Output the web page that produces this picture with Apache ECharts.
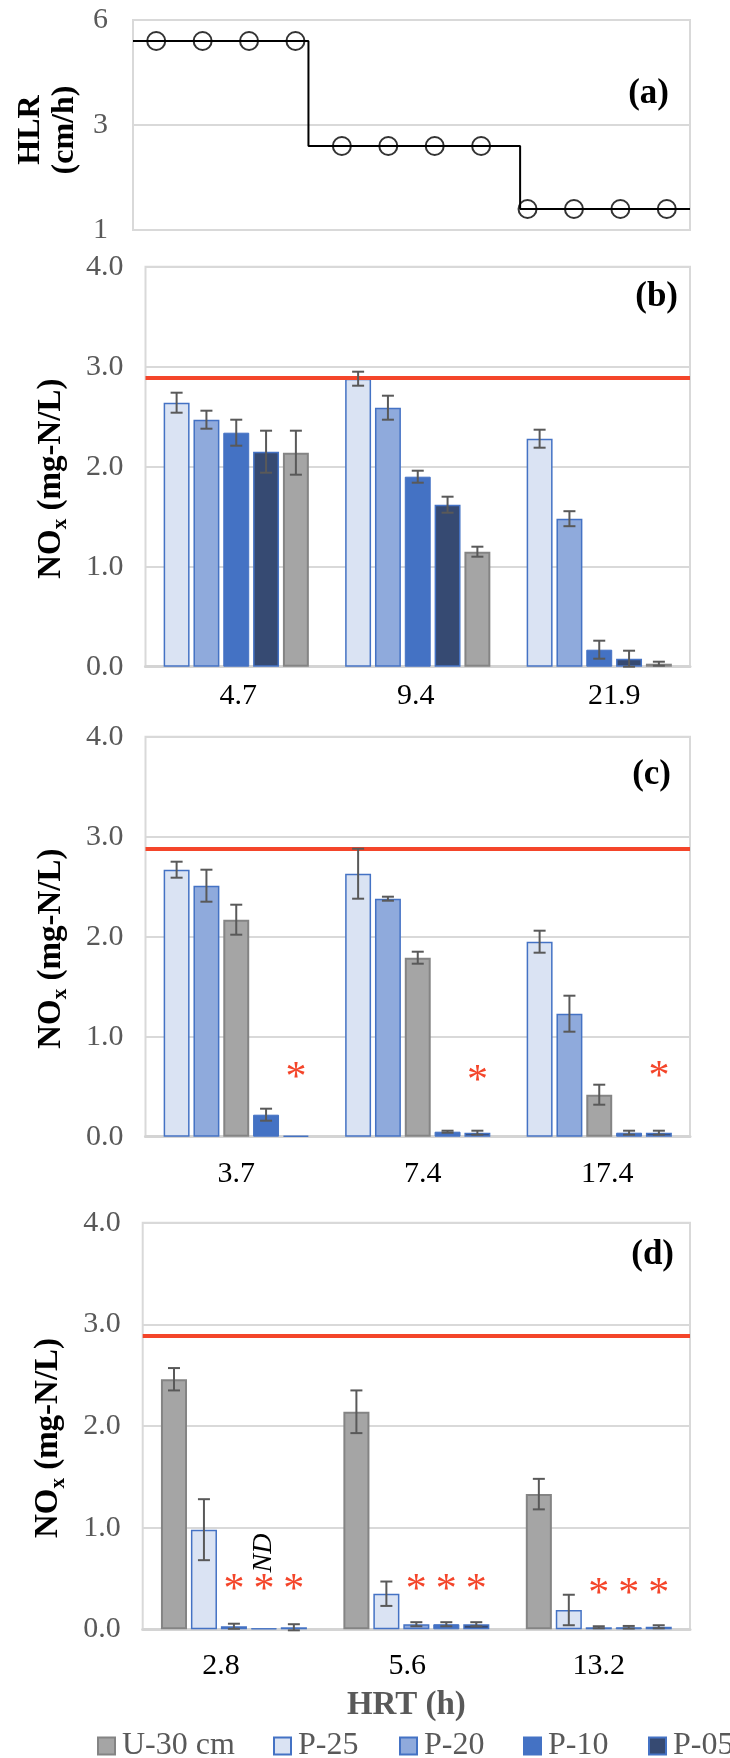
<!DOCTYPE html>
<html><head><meta charset="utf-8">
<script src="https://cdn.jsdelivr.net/npm/echarts@6/dist/echarts.min.js"></script>
<style>html,body{margin:0;padding:0;background:#fff}#c{width:730px;height:1758px}</style>
</head><body><div id="c"></div>
<script>
// ---------------- data ----------------
const hlrTickLabels = [1, 3, 6];
const hlrRuns = ['1','2','3','4','5','6','7','8','9','10','11','12'];
const hlrValues = [5.4, 5.4, 5.4, 5.4, 2.6, 2.6, 2.6, 2.6, 1.4, 1.4, 1.4, 1.4];
const hlrStepLevels = [5.4, 2.6, 1.4];
const hlrStepBreaks = [0, 3.78, 8.34, 12];

const legendNames = ['U-30 cm', 'P-25', 'P-20', 'P-10', 'P-05'];
const nitrateLimit = [2.89, 2.88, 2.89];

// panel (b)
const hrtB = ['4.7', '9.4', '21.9'];
const orderB = ['P-25', 'P-20', 'P-10', 'P-05', 'U-30 cm'];
const bP25 = [2.64, 2.88, 2.28], bP25err = [0.10, 0.07, 0.09];
const bP20 = [2.47, 2.59, 1.48], bP20err = [0.09, 0.12, 0.075];
const bP10 = [2.34, 1.90, 0.17], bP10err = [0.13, 0.06, 0.09];
const bP05 = [2.15, 1.62, 0.08], bP05err = [0.21, 0.08, 0.08];
const bU30 = [2.14, 1.15, 0.03], bU30err = [0.22, 0.05, 0.02];

// panel (c)
const hrtC = ['3.7', '7.4', '17.4'];
const orderC = ['P-25', 'P-20', 'U-30 cm', 'P-10', 'P-05'];
const cP25 = [2.67, 2.63, 1.95], cP25err = [0.08, 0.25, 0.11];
const cP20 = [2.51, 2.38, 1.23], cP20err = [0.16, 0.02, 0.18];
const cU30 = [2.17, 1.79, 0.42], cU30err = [0.15, 0.06, 0.10];
const cP10 = [0.22, 0.05, 0.04], cP10err = [0.06, 0.01, 0.02];
const cP05 = [0.01, 0.04, 0.04], cP05err = [0, 0.02, 0.02];
const cStars = [[0, 4, 0.58], [1, 4, 0.55], [2, 4, 0.59]];   // [HRT index, bar slot, level]

// panel (d)
const hrtD = ['2.8', '5.6', '13.2'];
const orderD = ['U-30 cm', 'P-25', 'P-20', 'P-10', 'P-05'];
const dU30 = [2.46, 2.14, 1.33], dU30err = [0.11, 0.21, 0.15];
const dP25 = [0.98, 0.35, 0.19], dP25err = [0.30, 0.12, 0.15];
const dP20 = [0.03, 0.05, 0.02], dP20err = [0.025, 0.02, 0.01];
const dP10 = [0.01, 0.05, 0.02], dP10err = [0, 0.02, 0.013];
const dP05 = [0.02, 0.05, 0.025], dP05err = [0.03, 0.02, 0.015];
const dStars = [[0, 2, 0.38], [0, 3, 0.38], [0, 4, 0.38], [1, 2, 0.38], [1, 3, 0.38], [1, 4, 0.38], [2, 2, 0.34], [2, 3, 0.34], [2, 4, 0.34]];
const dND = [[0, 3, 0.75]];

// ---------------- styling / building ----------------
const FONT = 'Liberation Serif';
const styles = {
  'U-30 cm': {color: '#a5a5a5', borderColor: '#848484', borderWidth: 2},
  'P-25': {color: '#dae3f3', borderColor: '#4472c4', borderWidth: 1.5},
  'P-20': {color: '#8faadc', borderColor: '#4472c4', borderWidth: 1.5},
  'P-10': {color: '#4472c4', borderColor: '#4472c4', borderWidth: 1},
  'P-05': {color: '#364a72', borderColor: '#4472c4', borderWidth: 1.5}
};
// horizontal nudges of category labels (px), as placed in the original figure
const labelNudge = [[2, -2, 15], [0, 5, 8], [-13, -9, 0]];
const legendLeft = [97, 273, 399, 523, 648];

function hlrPos(v) {
  const t = hlrTickLabels;
  for (let i = 0; i < t.length - 1; i++) {
    if (v <= t[i + 1] || i === t.length - 2) return i + (v - t[i]) / (t[i + 1] - t[i]);
  }
}

const grids = [
  {left: 133, top: 20, width: 557, height: 210},
  {left: 145.5, top: 266.7, width: 544.5, height: 400},
  {left: 145.5, top: 736.7, width: 544.5, height: 400},
  {left: 142.7, top: 1222.7, width: 547.3, height: 406.6}
].map(g => Object.assign({show: true, borderColor: '#d9d9d9', borderWidth: 2, backgroundColor: 'transparent'}, g));

const xAxis = [], yAxis = [], series = [];

xAxis.push({gridIndex: 0, type: 'category', data: hlrRuns, axisLabel: {show: false}, axisTick: {show: false}, axisLine: {show: false}});
xAxis.push({gridIndex: 0, type: 'value', min: 0, max: 12, show: false});
yAxis.push({gridIndex: 0, type: 'value', min: 0, max: hlrTickLabels.length - 1, interval: 1,
  axisLine: {show: false}, axisTick: {show: false},
  splitLine: {lineStyle: {color: '#d9d9d9', width: 2}},
  axisLabel: {formatter: v => String(hlrTickLabels[Math.round(v)]), color: '#595959', fontFamily: FONT, fontSize: 30, margin: 25},
  name: 'HLR\n(cm/h)', nameLocation: 'middle', nameGap: 40, nameRotate: 90,
  nameTextStyle: {fontFamily: FONT, fontSize: 32, fontWeight: 'bold', color: '#000', lineHeight: 34, padding: [0, 10, 0, 0]}
});
const stepData = [];
hlrStepLevels.forEach((lv, i) => {
  stepData.push([hlrStepBreaks[i], hlrPos(lv)]);
  stepData.push([hlrStepBreaks[i + 1], hlrPos(lv)]);
});
series.push({type: 'line', xAxisIndex: 1, yAxisIndex: 0, data: stepData, symbol: 'none',
  lineStyle: {color: '#000', width: 2}, z: 3, silent: true});
series.push({type: 'scatter', xAxisIndex: 0, yAxisIndex: 0, data: hlrValues.map(hlrPos), symbol: 'circle', symbolSize: 18,
  itemStyle: {color: 'rgba(0,0,0,0)', borderColor: '#000', borderWidth: 2}, z: 4, silent: true});

function slotX(api, cat, slot) {
  const band = api.size([1, 0])[0];
  const barW = band * 0.8 / 5.6;
  return api.coord([cat, 0])[0] + (slot - 2) * 1.15 * barW;
}
function errRender(params, api) {
  const cat = api.value(0), slot = api.value(1), lo = api.value(2), hi = api.value(3);
  const cx = slotX(api, cat, slot);
  const y1 = api.coord([cat, lo])[1], y2 = api.coord([cat, hi])[1];
  const h = 6, st = {stroke: '#595959', lineWidth: 2};
  return {type: 'group', children: [
    {type: 'line', shape: {x1: cx, y1: y1, x2: cx, y2: y2}, style: st},
    {type: 'line', shape: {x1: cx - h, y1: y1, x2: cx + h, y2: y1}, style: st},
    {type: 'line', shape: {x1: cx - h, y1: y2, x2: cx + h, y2: y2}, style: st}
  ]};
}
function starRender(params, api) {
  const cat = api.value(0), slot = api.value(1), lv = api.value(2);
  return {type: 'text', x: slotX(api, cat, slot), y: api.coord([cat, lv])[1],
    style: {text: '*', fill: '#f4452a', fontFamily: FONT, fontSize: 42, align: 'center', verticalAlign: 'middle'}};
}
function ndRender(params, api) {
  const cat = api.value(0), slot = api.value(1), lv = api.value(2);
  return {type: 'text', x: slotX(api, cat, slot), y: api.coord([cat, lv])[1], rotation: Math.PI / 2,
    style: {text: 'ND', fill: '#000', fontFamily: FONT, fontSize: 28, fontStyle: 'italic', align: 'center', verticalAlign: 'middle'}};
}

const noxName = '{b|NO}{s|x}{b| (mg-N/L)}';
const noxRich = {
  b: {fontFamily: FONT, fontSize: 33, fontWeight: 'bold', color: '#000', lineHeight: 40},
  s: {fontFamily: FONT, fontSize: 21, fontWeight: 'bold', color: '#000', lineHeight: 14, verticalAlign: 'bottom'}
};

const barPanels = [
  {cats: hrtB, order: orderB, vals: {'P-25': bP25, 'P-20': bP20, 'P-10': bP10, 'P-05': bP05, 'U-30 cm': bU30},
   errs: {'P-25': bP25err, 'P-20': bP20err, 'P-10': bP10err, 'P-05': bP05err, 'U-30 cm': bU30err}, stars: [], nd: [], margin: 14},
  {cats: hrtC, order: orderC, vals: {'P-25': cP25, 'P-20': cP20, 'U-30 cm': cU30, 'P-10': cP10, 'P-05': cP05},
   errs: {'P-25': cP25err, 'P-20': cP20err, 'U-30 cm': cU30err, 'P-10': cP10err, 'P-05': cP05err}, stars: cStars, nd: [], margin: 22},
  {cats: hrtD, order: orderD, vals: {'U-30 cm': dU30, 'P-25': dP25, 'P-20': dP20, 'P-10': dP10, 'P-05': dP05},
   errs: {'U-30 cm': dU30err, 'P-25': dP25err, 'P-20': dP20err, 'P-10': dP10err, 'P-05': dP05err}, stars: dStars, nd: dND, margin: 22}
];

barPanels.forEach((p, k) => {
  const gi = k + 1, ai = k + 2;
  const rich = {t: {fontFamily: FONT, fontSize: 30, color: '#000'}};
  labelNudge[k].forEach((n, i) => {
    rich['g' + i] = {fontFamily: FONT, fontSize: 30, width: Math.max(1, 2 * Math.abs(n))};
  });
  const xa = {gridIndex: gi, type: 'category', data: p.cats,
    axisLine: {show: true, lineStyle: {color: '#d4d4d4', width: 3}}, axisTick: {show: false},
    axisLabel: {color: '#000', fontFamily: FONT, fontSize: 30, margin: p.margin, rich: rich, interval: 0, hideOverlap: false,
      formatter: (v, i) => {
        const n = labelNudge[k][i];
        if (n > 0) return '{g' + i + '|\u00a0}{t|' + v + '}';
        if (n < 0) return '{t|' + v + '}{g' + i + '|\u00a0}';
        return '{t|' + v + '}';
      }}};
  if (k === 2) {
    Object.assign(xa, {name: 'HRT (h)', nameLocation: 'middle', nameGap: 60,
      nameTextStyle: {fontFamily: FONT, fontSize: 33, fontWeight: 'bold', color: '#595959', padding: [0, 20, 0, 0]}});
  }
  xAxis.push(xa);
  yAxis.push({gridIndex: gi, type: 'value', min: 0, max: 4, interval: 1,
    axisLine: {show: false}, axisTick: {show: false},
    splitLine: {lineStyle: {color: '#d9d9d9', width: 2}},
    axisLabel: {formatter: v => v.toFixed(1), color: '#595959', fontFamily: FONT, fontSize: 30, margin: 22},
    name: noxName, nameLocation: 'middle', nameGap: 74, nameRotate: 90,
    nameTextStyle: {rich: noxRich, padding: [0, 24, 0, 0]}
  });
  const errData = [];
  p.order.forEach((nm, slot) => {
    const s = {name: nm, type: 'bar', xAxisIndex: ai, yAxisIndex: k + 1, data: p.vals[nm],
      barCategoryGap: '20%', barGap: '15%', itemStyle: styles[nm], silent: true};
    if (slot === 0) {
      s.markLine = {silent: true, symbol: ['none', 'none'], label: {show: false},
        lineStyle: {color: '#f4452a', width: 4, type: 'solid'}, data: [{yAxis: nitrateLimit[k]}]};
    }
    series.push(s);
    p.vals[nm].forEach((v, c) => {
      const e = p.errs[nm][c];
      if (e > 0) errData.push([c, slot, v - e, v + e]);
    });
  });
  series.push({type: 'custom', xAxisIndex: ai, yAxisIndex: k + 1, data: errData, renderItem: errRender, z: 5, silent: true,
    encode: {x: 0, y: [2, 3]}});
  if (p.stars.length) series.push({type: 'custom', xAxisIndex: ai, yAxisIndex: k + 1, data: p.stars, renderItem: starRender, z: 6, silent: true, encode: {x: 0, y: 2}});
  if (p.nd.length) series.push({type: 'custom', xAxisIndex: ai, yAxisIndex: k + 1, data: p.nd, renderItem: ndRender, z: 6, silent: true, encode: {x: 0, y: 2}});
});

const panelLabel = (txt, right, cy) => ({type: 'text', right: right, top: cy - 20,
  style: {text: txt, fontFamily: FONT, fontSize: 35, fontWeight: 'bold', fill: '#000'}});

const legends = legendNames.map((nm, i) => ({data: [nm], left: legendLeft[i], top: 1730, padding: 0,
  itemWidth: 17, itemHeight: 17, icon: 'rect', selectedMode: false,
  textStyle: {fontFamily: FONT, fontSize: 32, color: '#595959', padding: [0, 0, 0, 2]}}));

const chart = echarts.init(document.getElementById('c'));
chart.setOption({
  animation: false,
  backgroundColor: '#fff',
  grid: grids,
  xAxis: xAxis,
  yAxis: yAxis,
  series: series,
  legend: legends,
  graphic: [
    panelLabel('(a)', 61, 96),
    panelLabel('(b)', 52, 299),
    panelLabel('(c)', 59, 777),
    panelLabel('(d)', 56, 1257)
  ]
});
</script></body></html>
